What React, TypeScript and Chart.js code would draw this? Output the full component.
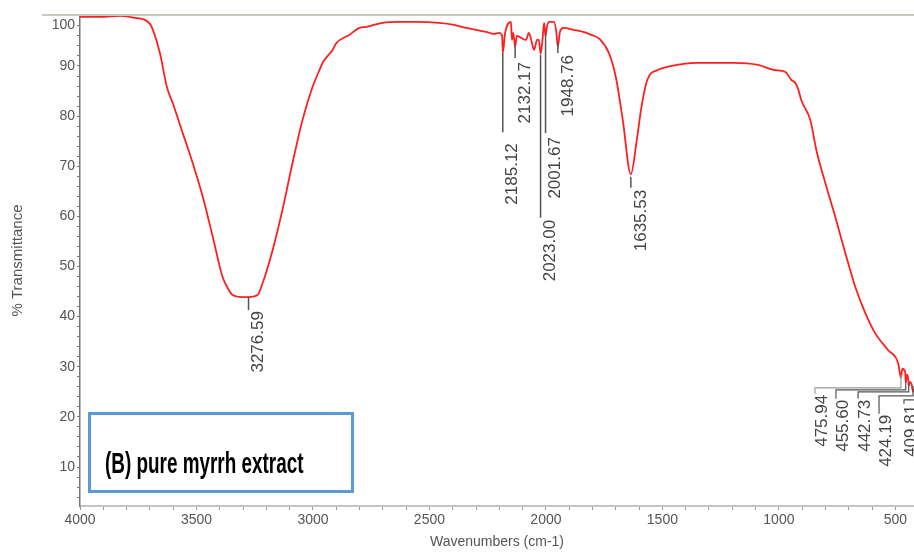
import React, { useEffect, useRef } from "react";
import { Chart, registerables } from "chart.js";

Chart.register(...registerables);

// ---- Spectrum data (wavenumber cm-1, % transmittance) ----
const wavenumbers = [
  4000, 3914, 3829, 3764, 3722, 3700, 3687, 3657, 3627, 3602, 3559, 3516, 3473, 3430, 3388, 3366, 3345, 3302,
  3276.59, 3238, 3216, 3173, 3131, 3088, 3045, 3002, 2972, 2959, 2916, 2899, 2844, 2801, 2771, 2702, 2630, 2557,
  2458, 2394, 2343, 2300, 2257, 2223, 2201, 2188, 2185.12, 2175, 2150, 2146, 2140, 2132.17, 2125, 2086, 2073,
  2060, 2051, 2038, 2030, 2023, 2015, 2008, 2001.67, 1995, 1985, 1965, 1955, 1948.76, 1940, 1925, 1880, 1840,
  1805, 1770, 1730, 1700, 1670, 1635.53, 1610, 1590, 1565, 1520, 1480, 1350, 1190, 1090, 1020, 972, 946, 929,
  916, 904, 865, 839, 801, 758, 715, 672, 629, 587, 531, 488, 475.94, 470, 458, 455.6, 450, 445, 442.73, 437,
  430, 424.19, 420,
];
const transmittance = [
  99.8, 99.8, 100.0, 99.6, 99.2, 98.4, 97.2, 92.6, 85.8, 82.6, 76.6, 70.6, 63.9, 55.9, 47.9, 45.7, 44.3, 43.9,
  43.9, 44.3, 46.7, 53.3, 61.3, 70.6, 79.2, 85.8, 89.2, 90.6, 93.2, 94.6, 96.2, 97.6, 97.8, 98.6, 98.8, 98.8,
  98.6, 98.2, 97.6, 97.2, 96.8, 96.4, 96.6, 96.0, 92.6, 96.6, 98.8, 95.2, 96.6, 93.8, 96.0, 95.2, 96.6,
  94.6, 93.2, 95.2, 95.2, 92.4, 95.0, 98.6, 96.0, 98.0, 98.8, 98.8, 96.6, 93.8, 96.8, 97.6, 97.2, 96.8,
  96.2, 95.4, 92.6, 87.8, 79.2, 68.4, 75.2, 81.8, 87.2, 89.2, 89.8, 90.6, 90.6, 90.2, 89.2, 88.8, 87.2, 86.6,
  85.2, 83.2, 79.2, 73.2, 66.7, 59.9, 52.7, 45.9, 40.7, 36.7, 33.3, 30.7, 27.8, 29.6, 29.0, 26.8, 28.4, 27.6, 26.2, 27.0,
  26.4, 25.0, 25.6,
];

// ---- Peak annotations ----
const peakWavenumbers = [3276.59, 2185.12, 2132.17, 2023.0, 2001.67, 1948.76, 1635.53];
const peakLabels = ["3276.59", "2185.12", "2132.17", "2023.00", "2001.67", "1948.76", "1635.53"];
const peakLineTop = [43.9, 92.6, 94.2, 92.2, 96.6, 94.8, 67.9];
const peakLineEnd = [41.3, 76.8, 91.6, 59.7, 76.6, 92.6, 65.7];
const peakLabelTop = [41.1, 74.6, 90.8, 59.3, 75.8, 92.2, 65.3];

const clusterWavenumbers = [475.94, 455.6, 442.73, 424.19, 409.81];
const clusterLabels = ["475.94", "455.60", "442.73", "424.19", "409.81"];
const clusterAnchorT = [28.4, 27.4, 26.8, 26.2, 25.1];
const clusterLeaderT = [25.8, 25.4, 25.0, 24.2, 23.4];
const clusterLabelX = [815, 725, 630, 540, 433];
const clusterLabelTop = [24.4, 23.4, 23.4, 20.4, 22.4];

// ---- Axes ----
const xTickValues: number[] = [];
for (let v = 500; v <= 4000; v += 100) xTickValues.push(v);
const yTickValues: number[] = [];
for (let v = 4; v <= 100; v += 2) yTickValues.push(v);

const NARROW = "'Liberation Sans Narrow', 'Liberation Sans', Arial, sans-serif";
const SANS = "'Liberation Sans', Arial, sans-serif";

const annotPlugin = {
  id: "annot",
  afterDraw(chart: any) {
    const { ctx, chartArea } = chart;
    const x = chart.scales.x;
    const y = chart.scales.y;
    ctx.save();
    // top frame line
    ctx.strokeStyle = "#c8c8c0";
    ctx.lineWidth = 2;
    ctx.beginPath();
    ctx.moveTo(42, chartArea.top);
    ctx.lineTo(chartArea.right, chartArea.top);
    ctx.stroke();

    // "100" label shifted inside frame
    ctx.fillStyle = "#555";
    ctx.font = `14px ${NARROW}`;
    ctx.textAlign = "right";
    ctx.textBaseline = "middle";
    ctx.fillText("100", chartArea.left - 5, y.getPixelForValue(100) + 9);

    // peaks
    ctx.strokeStyle = "#555";
    ctx.lineWidth = 1.5;
    ctx.font = `17px ${SANS}`;
    ctx.fillStyle = "#444";
    peakWavenumbers.forEach((w, i) => {
      const px = x.getPixelForValue(w);
      ctx.beginPath();
      ctx.moveTo(px, y.getPixelForValue(peakLineTop[i]));
      ctx.lineTo(px, y.getPixelForValue(peakLineEnd[i]));
      ctx.stroke();
      ctx.save();
      ctx.translate(px + 10, y.getPixelForValue(peakLabelTop[i]));
      ctx.rotate(-Math.PI / 2);
      ctx.textAlign = "right";
      ctx.textBaseline = "middle";
      ctx.fillText(peakLabels[i], 0, 0);
      ctx.restore();
    });

    // cluster of low-wavenumber peaks
    clusterWavenumbers.forEach((w, i) => {
      const px = x.getPixelForValue(w);
      const lx = x.getPixelForValue(clusterLabelX[i]);
      const hy = y.getPixelForValue(clusterLeaderT[i]);
      ctx.strokeStyle = i === 0 ? "#999" : "#555";
      ctx.lineWidth = 1.2;
      ctx.beginPath();
      ctx.moveTo(px, y.getPixelForValue(clusterAnchorT[i]));
      ctx.lineTo(px, hy);
      ctx.lineTo(lx - 7, hy);
      ctx.lineTo(lx - 7, y.getPixelForValue(clusterLabelTop[i]) - 1);
      ctx.stroke();
      ctx.save();
      ctx.translate(lx, y.getPixelForValue(clusterLabelTop[i]));
      ctx.rotate(-Math.PI / 2);
      ctx.textAlign = "right";
      ctx.textBaseline = "middle";
      ctx.fillStyle = "#444";
      ctx.fillText(clusterLabels[i], 0, 0);
      ctx.restore();
    });
    ctx.restore();
  },
};

export default function App() {
  const ref = useRef<HTMLCanvasElement | null>(null);
  useEffect(() => {
    if (!ref.current) return;
    const chart = new Chart(ref.current, {
      type: "line",
      data: {
        datasets: [
          {
            data: wavenumbers.map((w, i) => ({ x: w, y: transmittance[i] })),
            borderColor: "#ff1f1f",
            borderWidth: 1.8,
            pointRadius: 0,
            cubicInterpolationMode: "monotone",
            fill: false,
          },
        ],
      },
      options: {
        animation: false,
        responsive: false,
        devicePixelRatio: 1,
        layout: { padding: { top: 15, left: 0, right: 0, bottom: 0 } },
        plugins: { legend: { display: false }, tooltip: { enabled: false } },
        scales: {
          x: {
            type: "linear",
            reverse: true,
            min: 420,
            max: 4000,
            afterBuildTicks: (s: any) => {
              s.ticks = xTickValues.map((v) => ({ value: v }));
            },
            afterFit: (s: any) => {
              s.height = 53;
            },
            ticks: {
              autoSkip: false,
              maxRotation: 0,
              padding: 2,
              color: "#555",
              font: { family: NARROW, size: 14 },
              callback: (v: any) => (Number(v) % 500 === 0 ? String(v) : ""),
            },
            grid: { drawOnChartArea: false, drawTicks: true, tickLength: 4, tickColor: "#999" },
            border: { display: true, color: "#c4c4c4", width: 2 },
            title: {
              display: true,
              text: "Wavenumbers (cm-1)",
              color: "#555",
              font: { family: SANS, size: 14 },
              padding: { top: 0, bottom: 8 },
            },
          },
          y: {
            type: "linear",
            min: 2.22,
            max: 100.17,
            afterBuildTicks: (s: any) => {
              s.ticks = yTickValues.map((v) => ({ value: v }));
            },
            afterFit: (s: any) => {
              s.width = 80;
            },
            ticks: {
              autoSkip: false,
              padding: 2,
              color: "#555",
              font: { family: NARROW, size: 14 },
              callback: (v: any) => (Number(v) % 10 === 0 && Number(v) !== 100 ? String(v) : ""),
            },
            grid: { drawOnChartArea: false, drawTicks: true, tickLength: 3, tickColor: "#777" },
            border: { display: true, color: "#777", width: 1.5, dash: [2, 2] },
            title: {
              display: true,
              text: "% Transmittance",
              color: "#555",
              font: { family: SANS, size: 15 },
              padding: { top: 9, bottom: 0 },
            },
          },
        },
      },
      plugins: [annotPlugin],
    } as any);
    return () => chart.destroy();
  }, []);

  return (
    <div style={{ position: "absolute", left: 0, top: 0, width: 914, height: 559, background: "#fff", overflow: "hidden" }}>
      <canvas ref={ref} width={914} height={559} style={{ display: "block" }} />
      <div
        style={{
          position: "absolute",
          left: 88,
          top: 412,
          width: 266,
          height: 81,
          boxSizing: "border-box",
          border: "3px solid rgb(91,155,213)",
        }}
      />
      <div
        style={{
          position: "absolute",
          left: 105,
          top: 448,
          fontFamily: SANS,
          fontWeight: 700,
          fontSize: 30,
          lineHeight: "30px",
          color: "#000",
          whiteSpace: "nowrap",
          transform: "scaleX(0.63)",
          transformOrigin: "left top",
        }}
      >
        (B) pure myrrh extract
      </div>
    </div>
  );
}
